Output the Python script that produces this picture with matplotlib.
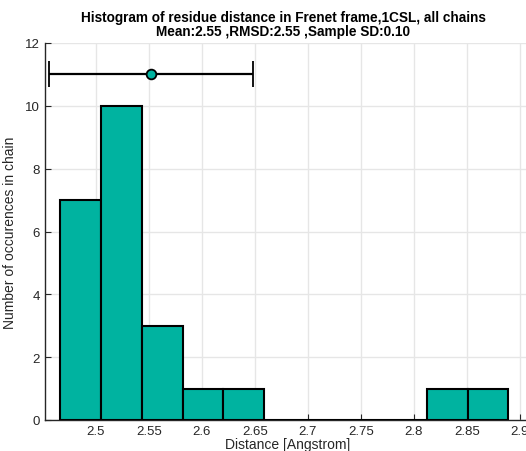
import matplotlib
matplotlib.use("Agg")
import matplotlib.pyplot as plt
import numpy as np

# Data
bin_edges = [2.4665, 2.5049, 2.5433, 2.5817, 2.6201, 2.6585, 2.6969, 2.7353,
             2.7737, 2.8121, 2.8505, 2.8889]
counts = [7, 10, 3, 1, 1, 0, 0, 0, 0, 1, 1]
mean_val = 2.552
sd_val = 0.0965
err_y = 11.0
xticks = [2.5, 2.55, 2.6, 2.65, 2.7, 2.75, 2.8, 2.85, 2.9]
xtick_labels = ["2.5", "2.55", "2.6", "2.65", "2.7", "2.75", "2.8", "2.85", "2.9"]
yticks = [0, 2, 4, 6, 8, 10, 12]

plt.rcParams['font.family'] = ['Liberation Sans', 'DejaVu Sans']

fig = plt.figure(figsize=(5.26, 4.52), dpi=100)
ax = fig.add_axes([45/526, 31/452, (530.6-45)/526, 377/452])

teal = '#00b3a0'
widths = np.diff(bin_edges)
ax.bar(bin_edges[:-1], counts, width=widths, align='edge', facecolor=teal,
       edgecolor='black', linewidth=1.5, zorder=3)

ax.errorbar([mean_val], [err_y], xerr=[sd_val], fmt='o', color='black',
            ecolor='black', elinewidth=1.6, capsize=9.5, capthick=1.8,
            markerfacecolor=teal, markeredgecolor='black', markersize=7,
            markeredgewidth=1.3, zorder=5)

ax.set_xlim(2.452, 2.91)
ax.set_ylim(0, 12)
ax.set_xticks(xticks)
ax.set_xticklabels(xtick_labels)
ax.set_yticks(yticks)
ax.grid(True, color='#e6e6e6', linewidth=1.0, zorder=0)
ax.set_axisbelow(True)
for s in ['top', 'right']:
    ax.spines[s].set_visible(False)
for s in ['left', 'bottom']:
    ax.spines[s].set_color('#262626')
    ax.spines[s].set_linewidth(1.0)
ax.tick_params(direction='in', length=4, colors='#262626', labelsize=9.5, width=0.8)

ax.set_xlabel('Distance [Angstrom]', fontsize=10, color='#262626', labelpad=0)
ax.set_ylabel('Number of occurences in chain', fontsize=10, color='#262626')
ax.yaxis.set_label_coords((17 - 45) / (530.6 - 45), 0.5)
ax.set_title('Histogram of residue distance in Frenet frame,1CSL, all chains\n'
             'Mean:2.55 ,RMSD:2.55 ,Sample SD:0.10',
             fontsize=9.8, fontweight='bold', linespacing=0.95, pad=6)
# center title over the visible region
ax.title.set_x((283 - 45) / (530.6 - 45))

fig.savefig('out.png', dpi=100)
